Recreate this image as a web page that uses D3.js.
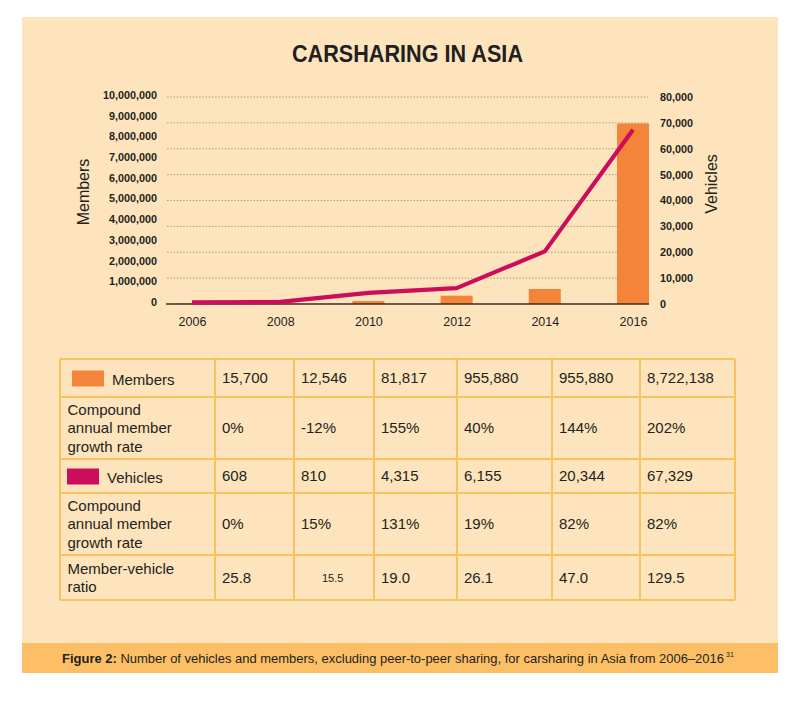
<!DOCTYPE html>
<html><head><meta charset="utf-8">
<script src="https://cdn.jsdelivr.net/npm/d3@7"></script>
<style>
html,body{margin:0;padding:0;background:#fff;}
svg{display:block;font-family:"Liberation Sans",Arial,Helvetica,sans-serif;}
</style></head>
<body><svg id="chart" width="797" height="703"></svg>
<script>
// ---- data ----
const years = [2006, 2008, 2010, 2012, 2014, 2016];
const membersBar = [15700, 12546, 145000, 400000, 725000, 8722138];   // bar heights as drawn
const vehicles = [608, 810, 4315, 6155, 20344, 67329];
const leftTicks = [0,1000000,2000000,3000000,4000000,5000000,6000000,7000000,8000000,9000000,10000000];
const rightTicks = [0,10000,20000,30000,40000,50000,60000,70000,80000];
const membersText = ["15,700","12,546","81,817","955,880","955,880","8,722,138"];
const memberGrowth = ["0%","-12%","155%","40%","144%","202%"];
const vehiclesText = ["608","810","4,315","6,155","20,344","67,329"];
const vehicleGrowth = ["0%","15%","131%","19%","82%","82%"];
const ratioText = ["25.8","15.5","19.0","26.1","47.0","129.5"];

const C = {panel:"#fde4bc", band:"#fcbf66", grid:"#f8c25e", bar:"#f3843a", line:"#cb0d5b", text:"#231f20"};

const svg = d3.select("#chart");
svg.append("rect").attr("x",22).attr("y",17).attr("width",756).attr("height",656).attr("fill",C.panel);
svg.append("rect").attr("x",22).attr("y",643).attr("width",756).attr("height",30).attr("fill",C.band);

// title
svg.append("text").attr("x",407.5).attr("y",62).attr("text-anchor","middle")
  .attr("font-size",23).attr("font-weight","bold").attr("fill",C.text)
  .attr("textLength",231).attr("lengthAdjust","spacingAndGlyphs")
  .text("CARSHARING IN ASIA");

// scales
const plotL = 167, plotR = 649, y0 = 304, y1 = 97;
const x = d3.scalePoint().domain(years).range([192, 633]);
const yL = d3.scaleLinear().domain([0, 10000000]).range([y0, y1]);
const yR = d3.scaleLinear().domain([0, 80000]).range([y0, y1]);
const barW = 32;

// gridlines
svg.append("g").selectAll("line").data(rightTicks.filter(d=>d>0)).join("line")
  .attr("x1",plotL).attr("x2",plotR-1).attr("y1",d=>yR(d)).attr("y2",d=>yR(d))
  .attr("stroke","#a08b73").attr("stroke-width",0.8).attr("stroke-dasharray","1.6,1.6");

// axes
const gl = svg.append("g").attr("transform",`translate(${plotL},-2)`)
  .call(d3.axisLeft(yL).tickValues(leftTicks).tickSize(0).tickPadding(10).tickFormat(d3.format(",")));
gl.select(".domain").remove();
gl.selectAll("text").attr("font-size",10.8).attr("font-weight","bold").attr("fill",C.text)
  .attr("font-family","Liberation Sans, Arial, sans-serif");

const gr = svg.append("g").attr("transform",`translate(${plotR},0)`)
  .call(d3.axisRight(yR).tickValues(rightTicks).tickSize(0).tickPadding(11).tickFormat(d3.format(",")));
gr.select(".domain").remove();
gr.selectAll("text").attr("font-size",10.8).attr("font-weight","bold").attr("fill",C.text)
  .attr("font-family","Liberation Sans, Arial, sans-serif");

const gx = svg.append("g").attr("transform",`translate(0,${y0})`)
  .call(d3.axisBottom(x).tickSize(0).tickPadding(13));
gx.select(".domain").remove();
gx.selectAll("text").attr("font-size",12.5).attr("fill",C.text)
  .attr("font-family","Liberation Sans, Arial, sans-serif");

// bars
svg.append("g").selectAll("rect").data(years).join("rect")
  .attr("x",(d)=>x(d)-barW/2).attr("width",barW)
  .attr("y",(d,i)=>yL(membersBar[i])).attr("height",(d,i)=>y0-yL(membersBar[i]))
  .attr("fill",C.bar);

// zero line
svg.append("line").attr("x1",plotL-1).attr("x2",plotR).attr("y1",y0).attr("y2",y0)
  .attr("stroke","#3b2b22").attr("stroke-width",1.6);

// vehicles line
const line = d3.line().x((d,i)=>x(years[i])).y(d=>yR(d));
svg.append("path").datum(vehicles).attr("d",line).attr("fill","none")
  .attr("stroke",C.line).attr("stroke-width",4.2).attr("stroke-linejoin","round");

// axis titles
svg.append("text").attr("transform","translate(89,192) rotate(-90)").attr("text-anchor","middle")
  .attr("font-size",16).attr("fill",C.text).text("Members");
svg.append("text").attr("transform","translate(717,184) rotate(-90)").attr("text-anchor","middle")
  .attr("font-size",16).attr("fill",C.text).text("Vehicles");

// ---- table ----
const colX = [60,215,294,374,457,552,640,735];
const rowY = [359,397,459,493,555,600];
const rows = [
  {label:["Members"], vals:membersText, swatch:C.bar, sx:12, tx:112},
  {label:["Compound","annual member","growth rate"], vals:memberGrowth},
  {label:["Vehicles"], vals:vehiclesText, swatch:C.line, sx:7, tx:107},
  {label:["Compound","annual member","growth rate"], vals:vehicleGrowth},
  {label:["Member-vehicle","ratio"], vals:ratioText}
];
const tg = svg.append("g");
rows.forEach((r,ri)=>{
  const cy = (rowY[ri]+rowY[ri+1])/2;
  if (r.swatch){
    tg.append("rect").attr("x",colX[0]+r.sx).attr("y",cy-7.5).attr("width",32).attr("height",16).attr("fill",r.swatch);
    tg.append("text").attr("x",r.tx).attr("y",cy+7).attr("font-size",15).attr("fill",C.text).text(r.label[0]);
  } else {
    r.label.forEach((l,li)=>{
      tg.append("text").attr("x",colX[0]+7.5).attr("y",cy+5.4+(li-(r.label.length-1)/2)*18.5)
        .attr("font-size",15).attr("fill",C.text).text(l);
    });
  }
  r.vals.forEach((v,vi)=>{
    const small = (ri===4 && vi===1);
    tg.append("text").attr("x", small ? 322 : colX[vi+1]+7).attr("y",cy+(small?4.5:5.4))
      .attr("font-size", small?11:15).attr("fill",C.text).text(v);
  });
});
// grid lines of table
tg.selectAll("line.h").data(rowY).join("line").attr("class","h")
  .attr("x1",colX[0]).attr("x2",colX[colX.length-1]).attr("y1",d=>d).attr("y2",d=>d)
  .attr("stroke",C.grid).attr("stroke-width",2);
tg.selectAll("line.v").data(colX).join("line").attr("class","v")
  .attr("y1",rowY[0]).attr("y2",rowY[rowY.length-1]).attr("x1",d=>d).attr("x2",d=>d)
  .attr("stroke",C.grid).attr("stroke-width",2);

// caption
const cap = svg.append("text").attr("x",62).attr("y",663).attr("font-size",13).attr("fill",C.text)
  .attr("textLength",662).attr("lengthAdjust","spacingAndGlyphs");
cap.append("tspan").attr("font-weight","bold").text("Figure 2:");
cap.append("tspan").text(" Number of vehicles and members, excluding peer-to-peer sharing, for carsharing in Asia from 2006\u20132016");
svg.append("text").attr("x",726).attr("y",657).attr("font-size",7).attr("fill",C.text).text("31");
</script></body></html>
